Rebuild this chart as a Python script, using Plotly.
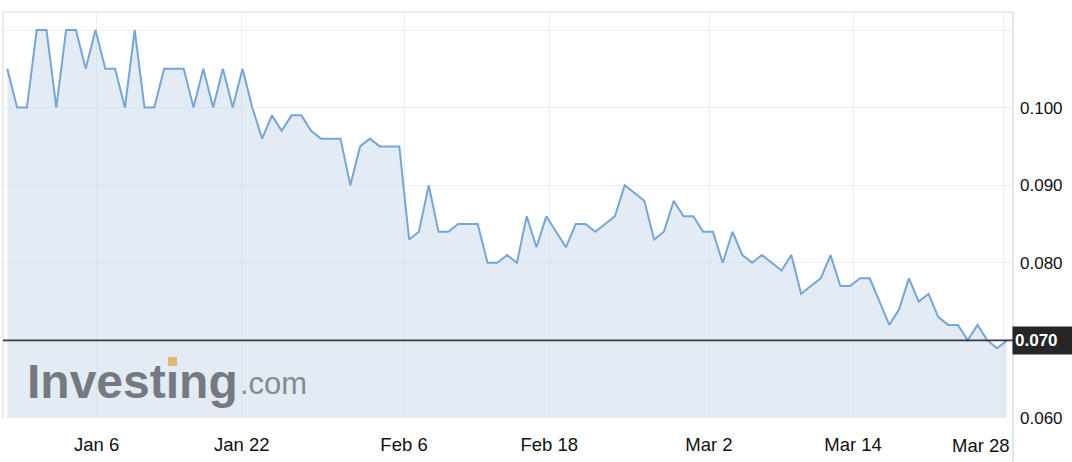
import plotly.graph_objects as go

# ---- data ----
prices = [
    0.105, 0.100, 0.100, 0.110, 0.110, 0.100, 0.110, 0.110, 0.105, 0.110,
    0.105, 0.105, 0.100, 0.110, 0.100, 0.100, 0.105, 0.105, 0.105, 0.100,
    0.105, 0.100, 0.105, 0.100, 0.105, 0.100, 0.096, 0.099, 0.097, 0.099,
    0.099, 0.097, 0.096, 0.096, 0.096, 0.090, 0.095, 0.096, 0.095, 0.095,
    0.095, 0.083, 0.084, 0.090, 0.084, 0.084, 0.085, 0.085, 0.085, 0.080,
    0.080, 0.081, 0.080, 0.086, 0.082, 0.086, 0.084, 0.082, 0.085, 0.085,
    0.084, 0.085, 0.086, 0.090, 0.089, 0.088, 0.083, 0.084, 0.088, 0.086,
    0.086, 0.084, 0.084, 0.080, 0.084, 0.081, 0.080, 0.081, 0.080, 0.079,
    0.081, 0.076, 0.077, 0.078, 0.081, 0.077, 0.077, 0.078, 0.078, 0.075,
    0.072, 0.074, 0.078, 0.075, 0.076, 0.073, 0.072, 0.072, 0.070, 0.072,
    0.070, 0.069, 0.070,
]
idx = list(range(len(prices)))

# date tick labels at (fractional) point positions
tick_pos = [9.12, 23.92, 40.48, 55.3, 71.6, 86.3, 101.6]
tick_labels = ["Jan 6", "Jan 22", "Feb 6", "Feb 18", "Mar 2", "Mar 14", "Mar 28"]

y_ticks = [0.060, 0.070, 0.080, 0.090, 0.100, 0.110]
y_labels = ["0.060", "", "0.080", "0.090", "0.100", ""]

last = prices[-1]

FONT = "Liberation Sans, Arial, Helvetica, sans-serif"

fig = go.Figure()
fig.add_trace(go.Scatter(
    x=idx, y=prices, mode="lines",
    line=dict(color="rgb(118,166,214)", width=2),
    fill="tozeroy", fillcolor="rgba(196,216,232,0.48)",
    hoverinfo="skip", showlegend=False,
))

fig.update_layout(
    width=1072, height=462,
    margin=dict(l=3, r=59, t=12, b=44, autoexpand=False),
    paper_bgcolor="white", plot_bgcolor="white",
    font=dict(family=FONT, color="#111"),
    xaxis=dict(
        range=[-0.44, 102.62], showgrid=True, gridcolor="#eceef3", gridwidth=1,
        tickvals=tick_pos, ticktext=tick_labels[:-1] + [""],
        tickfont=dict(size=18.5, color="#111"), ticks="", zeroline=False,
        ticklabelstandoff=13, showline=False,
    ),
    yaxis=dict(
        range=[0.060, 0.11232], side="right", showgrid=True, gridcolor="#eceef3",
        gridwidth=1, tickvals=y_ticks, ticktext=y_labels,
        tickfont=dict(size=17, color="#111"), ticks="", zeroline=False,
        ticklabelstandoff=6, showline=False,
    ),
)

# frame lines
border = "#e3e5ee"
fig.add_shape(type="line", xref="paper", yref="paper", x0=0, x1=1, y0=1, y1=1,
              line=dict(color=border, width=1.5))
fig.add_shape(type="line", xref="paper", yref="paper", x0=0, x1=0, y0=0, y1=1,
              line=dict(color=border, width=1.5))
fig.add_shape(type="line", xref="paper", yref="paper", x0=1, x1=1, y0=-0.11, y1=1,
              line=dict(color=border, width=2))

# current price line
fig.add_shape(type="line", xref="paper", yref="y", x0=0, x1=1, y0=last, y1=last,
              line=dict(color="#3a3a3a", width=1.6))
fig.add_annotation(
    xref="paper", yref="y", x=1, y=last, xanchor="left", yanchor="middle",
    text="<b>%.3f</b>" % last, showarrow=False, xshift=-1,
    font=dict(size=17, color="white", family=FONT),
    bgcolor="#262626", borderpad=2, width=55, height=23, align="left",
)

# last x tick label, kept inside the plot edge
fig.add_annotation(
    xref="paper", yref="paper", x=1, y=0, xanchor="right", yanchor="top",
    text=tick_labels[-1], showarrow=False, xshift=-1, yshift=-15,
    font=dict(size=18.5, color="#111", family=FONT),
)

# watermark
fig.add_annotation(
    xref="paper", yref="paper", x=(25 - 3) / 1010, y=(418 - 381) / 406,
    xanchor="left", yanchor="middle", showarrow=False,
    text="<b>Investıng</b>",
    font=dict(size=48, color="rgb(118,122,128)", family=FONT),
)
fig.add_annotation(
    xref="paper", yref="paper", x=(238 - 3) / 1010, y=(418 - 383) / 406,
    xanchor="left", yanchor="middle", showarrow=False,
    text=".com",
    font=dict(size=31, color="rgb(135,138,143)", family=FONT),
)
fig.add_shape(type="rect", xref="paper", yref="paper",
              x0=(168 - 3) / 1010, x1=(177 - 3) / 1010,
              y0=(418 - 366) / 406, y1=(418 - 357) / 406,
              fillcolor="rgb(226,182,110)", line=dict(width=0), layer="above")

fig.write_html("out.html", config={"displayModeBar": False},
               post_script="document.body.style.margin='0';document.body.style.padding='0';")
